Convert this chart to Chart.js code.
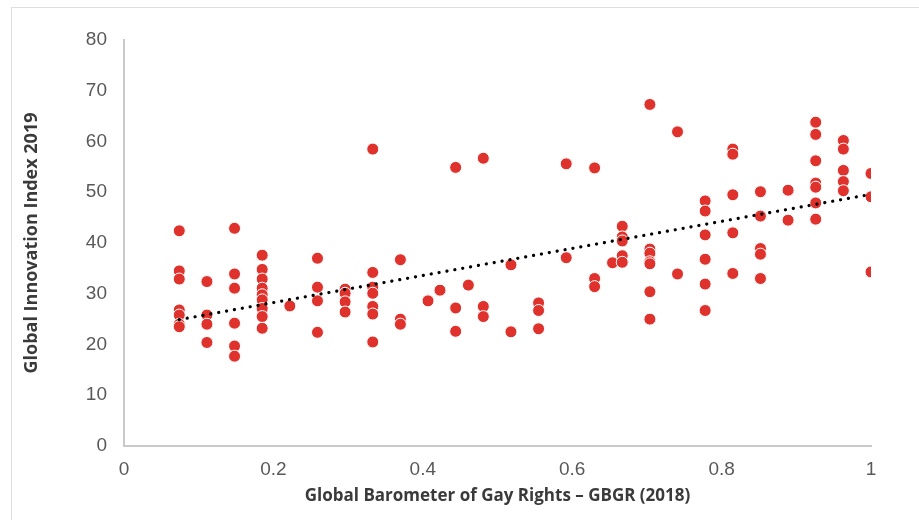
<!DOCTYPE html>
<html>
<head>
<meta charset="utf-8">
<script src="https://cdn.jsdelivr.net/npm/chart.js@4"></script>
<style>
  html, body { margin: 0; padding: 0; background: #fff; }
  #wrap { position: relative; width: 919px; height: 520px; overflow: hidden; }
  #frame { position: absolute; left: 11px; top: 7px; right: -5px; bottom: -5px; border-top: 1px solid #dedede; border-left: 1px solid #dedede; }
  #mainChart { position: absolute; left: 0; top: 0; }
</style>
</head>
<body>
<div id="wrap">
  <div id="frame"></div>
  <canvas id="mainChart" width="919" height="520"></canvas>
</div>
<script>
// GBGR score (x) and GII score (y) per country
const gbgrValues = [
  0.074, 0.074, 0.074, 0.074, 0.074, 0.074, 0.074,
  0.111, 0.111, 0.111, 0.111,
  0.148, 0.148, 0.148, 0.148, 0.148, 0.148,
  0.185, 0.185, 0.185, 0.185, 0.185, 0.185, 0.185, 0.185, 0.185,
  0.222,
  0.259, 0.259, 0.259, 0.259,
  0.296, 0.296, 0.296, 0.296,
  0.333, 0.333, 0.333, 0.333, 0.333, 0.333, 0.333,
  0.370, 0.370, 0.370,
  0.407,
  0.423,
  0.444, 0.444, 0.444,
  0.461,
  0.481, 0.481, 0.481,
  0.518, 0.518,
  0.555, 0.555, 0.555,
  0.592, 0.592,
  0.630, 0.630, 0.630,
  0.654,
  0.667, 0.667, 0.667, 0.667, 0.667,
  0.704, 0.704, 0.704, 0.704, 0.704, 0.704, 0.704,
  0.741, 0.741,
  0.778, 0.778, 0.778, 0.778, 0.778, 0.778,
  0.815, 0.815, 0.815, 0.815, 0.815,
  0.852, 0.852, 0.852, 0.852, 0.852,
  0.889, 0.889,
  0.926, 0.926, 0.926, 0.926, 0.926, 0.926, 0.926,
  0.963, 0.963, 0.963, 0.963, 0.963,
  1.0, 1.0, 1.0
];
const giiValues = [
  42.4, 34.5, 32.9, 26.8, 25.8, 24.0, 23.5,
  32.4, 25.8, 24.0, 20.4,
  42.9, 33.9, 31.1, 24.2, 19.7, 17.7,
  37.6, 34.8, 32.9, 31.1, 29.8, 28.8, 27.1, 25.5, 23.2,
  27.6,
  37.0, 31.3, 28.6, 22.4,
  30.9, 30.1, 28.4, 26.4,
  58.5, 34.2, 31.3, 30.1, 27.5, 26.0, 20.5,
  36.7, 25.0, 24.0,
  28.6,
  30.7,
  54.9, 27.2, 22.6,
  31.7,
  56.7, 27.5, 25.5,
  35.7, 22.5,
  28.2, 26.7, 23.1,
  55.6, 37.1,
  54.8, 33.0, 31.4,
  36.1,
  43.3, 41.2, 40.4, 37.5, 36.2,
  67.3, 38.8, 38.0, 36.3, 35.9, 30.4, 25.0,
  61.9, 33.9,
  48.3, 46.3, 41.6, 36.8, 31.9, 26.7,
  58.5, 57.5, 49.5, 42.0, 34.0,
  50.1, 45.3, 38.9, 37.8, 33.0,
  50.4, 44.5,
  63.8, 61.4, 56.2, 51.8, 51.0, 47.9, 44.7,
  60.2, 58.5, 54.3, 52.1, 50.3,
  53.7, 49.1, 34.3
];

// Linear trend line end points
const trendX = [0.074, 1.0];
const trendY = [24.9, 49.6];

const xTicks = [0, 0.2, 0.4, 0.6, 0.8, 1];
const yTicks = [0, 10, 20, 30, 40, 50, 60, 70, 80];

const xTitle = 'Global Barometer of Gay Rights – GBGR (2018)';
const yTitle = 'Global Innovation Index 2019';

const points = gbgrValues.map((x, i) => ({ x: x, y: giiValues[i] }));
const trend = trendX.map((x, i) => ({ x: x, y: trendY[i] }));

const tickFont = { family: '"Liberation Sans", Arial, sans-serif', size: 19 };

const ctx = document.getElementById('mainChart').getContext('2d');
const mainChart = new Chart(ctx, {
    type: 'scatter',
    data: {
        datasets: [{
            label: 'Trend',
            data: trend,
            showLine: true,
            borderColor: '#000',
            borderWidth: 3.2,
            borderDash: [0.1, 7.9],
            borderCapStyle: 'round',
            pointRadius: 0,
            order: 0
        }, {
            label: 'Countries',
            data: points,
            backgroundColor: '#e0322d',
            borderColor: '#ffffff',
            borderWidth: 1,
            pointRadius: 6,
            order: 1
        }]
    },
    options: {
        responsive: false,
        animation: false,
        devicePixelRatio: 1,
        layout: { padding: { top: 40, right: 48, bottom: 0, left: 0 } },
        plugins: { legend: { display: false }, tooltip: { enabled: false } },
        scales: {
            x: {
                type: 'linear',
                min: 0,
                max: 1,
                afterBuildTicks: (scale) => { scale.ticks = xTicks.map(v => ({ value: v })); },
                afterFit: (scale) => { scale.height = 74; },
                grid: { display: false, drawTicks: false },
                border: { display: true, color: '#c9c9c9', width: 2 },
                ticks: {
                    color: '#595959',
                    font: tickFont,
                    padding: 12,
                    callback: (v) => String(v)
                },
                title: {
                    display: true,
                    text: xTitle,
                    color: '#3a3a3a',
                    font: { family: '"Open Sans", sans-serif', size: 17, weight: 'bold' },
                    padding: { top: 0, bottom: 14 }
                }
            },
            y: {
                type: 'linear',
                min: 0,
                max: 80,
                afterBuildTicks: (scale) => { scale.ticks = yTicks.map(v => ({ value: v })); },
                afterFit: (scale) => { scale.width = 124; },
                grid: { display: false, drawTicks: false },
                border: { display: true, color: '#c9c9c9', width: 2 },
                ticks: {
                    color: '#595959',
                    font: tickFont,
                    padding: 17
                },
                title: {
                    display: true,
                    text: yTitle,
                    color: '#3a3a3a',
                    font: { family: '"Open Sans", sans-serif', size: 18, weight: 'bold' },
                    padding: { top: 21, bottom: 0 }
                }
            }
        }
    }
});
</script>
</body>
</html>
